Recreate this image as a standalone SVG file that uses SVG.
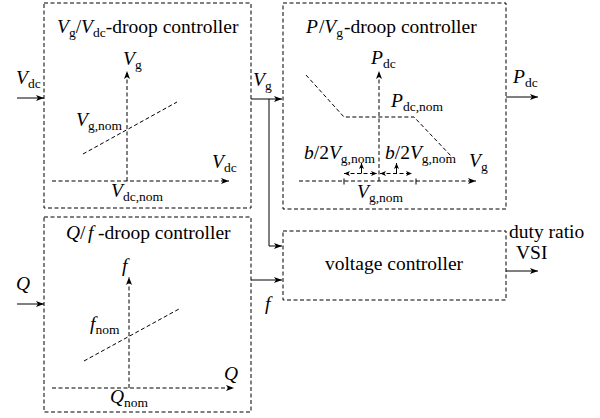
<svg xmlns="http://www.w3.org/2000/svg" width="600" height="418" viewBox="0 0 600 418" font-family="'Liberation Serif', 'DejaVu Serif', serif">
<defs>
<style>
.box{fill:none;stroke:#000;stroke-width:1;stroke-dasharray:4,2.5}
.dl{fill:none;stroke:#000;stroke-width:1;stroke-dasharray:4,2.5}
.ln{fill:none;stroke:#000;stroke-width:1}
text{font-family:'Liberation Serif','DejaVu Serif',serif;font-size:19.5px;fill:#000}
.i{font-style:italic}
.s{font-size:13.5px}
</style>
<marker id="ah" markerUnits="userSpaceOnUse" markerWidth="10" markerHeight="8" refX="8" refY="3" orient="auto-start-reverse" viewBox="0 0 10 8">
<path d="M0,0 L8,3 L0,6 L2,3 z" fill="#000" stroke="none"/>
</marker>
<marker id="sa" markerUnits="userSpaceOnUse" markerWidth="7" markerHeight="6" refX="6" refY="2.5" orient="auto-start-reverse" viewBox="0 0 7 6">
<path d="M0,0 L6,2.5 L0,5 L1.5,2.5 z" fill="#000" stroke="none"/>
</marker>
</defs>

<g id="vg-vdc-droop">
<rect class="box" x="44" y="3" width="207" height="205"/>
<text x="57" y="33"><tspan class="i">V</tspan><tspan class="s" dy="4">g</tspan><tspan dy="-4">/</tspan><tspan class="i">V</tspan><tspan class="s" dy="4">dc</tspan><tspan dy="-4">-droop controller</tspan></text>
<line class="dl" x1="127" y1="181" x2="127" y2="71" marker-end="url(#ah)"/>
<line class="dl" x1="52" y1="181" x2="229" y2="181" marker-end="url(#ah)"/>
<line class="dl" x1="83" y1="154" x2="177" y2="102"/>
<text x="123" y="65"><tspan class="i">V</tspan><tspan class="s" dy="4">g</tspan></text>
<text x="212" y="168"><tspan class="i">V</tspan><tspan class="s" dy="4">dc</tspan></text>
<text x="111" y="197"><tspan class="i">V</tspan><tspan class="s" dy="4">dc,nom</tspan></text>
<text x="76" y="126"><tspan class="i">V</tspan><tspan class="s" dy="4">g,nom</tspan></text>
</g>

<g id="p-vg-droop">
<rect class="box" x="283" y="3" width="223" height="206"/>
<text x="306" y="33"><tspan class="i">P</tspan><tspan dx="1">/</tspan><tspan class="i">V</tspan><tspan class="s" dy="4">g</tspan><tspan dy="-4" dx="1">-droop controller</tspan></text>
<line class="dl" x1="379" y1="181" x2="379" y2="71" marker-end="url(#ah)"/>
<line class="dl" x1="299" y1="181" x2="476" y2="181" marker-end="url(#ah)"/>
<polyline class="dl" points="306,75 344,117 414,117 452,157"/>
<line class="ln" x1="344" y1="178.5" x2="344" y2="184.5"/>
<line class="ln" x1="416" y1="178.5" x2="416" y2="184.5"/>
<line class="dl" x1="344" y1="173.5" x2="377" y2="173.5" marker-start="url(#sa)" marker-end="url(#sa)"/>
<line class="dl" x1="380" y1="173.5" x2="412" y2="173.5" marker-start="url(#sa)" marker-end="url(#sa)"/>
<line class="ln" x1="361.5" y1="173.5" x2="361.5" y2="163" marker-end="url(#sa)"/>
<line class="ln" x1="396.5" y1="173.5" x2="396.5" y2="163" marker-end="url(#sa)"/>
<text x="371" y="64"><tspan class="i">P</tspan><tspan class="s" dy="4">dc</tspan></text>
<text x="391" y="107"><tspan class="i">P</tspan><tspan class="s" dy="4">dc,nom</tspan></text>
<text x="469" y="167"><tspan class="i">V</tspan><tspan class="s" dy="4">g</tspan></text>
<text x="357" y="198"><tspan class="i">V</tspan><tspan class="s" dy="4">g,nom</tspan></text>
<text x="304" y="159"><tspan class="i">b</tspan><tspan>/2</tspan><tspan class="i">V</tspan><tspan class="s" dy="4">g,nom</tspan></text>
<text x="385" y="159"><tspan class="i">b</tspan><tspan>/2</tspan><tspan class="i">V</tspan><tspan class="s" dy="4">g,nom</tspan></text>
</g>

<g id="q-f-droop">
<rect class="box" x="44" y="217" width="207" height="195"/>
<text x="66" y="239"><tspan class="i">Q</tspan><tspan>/</tspan><tspan class="i" dx="2.5">f</tspan><tspan dx="4.5">-droop controller</tspan></text>
<line class="dl" x1="129" y1="388" x2="129" y2="277" marker-end="url(#ah)"/>
<line class="dl" x1="52" y1="388" x2="234" y2="388" marker-end="url(#ah)"/>
<line class="dl" x1="84" y1="361" x2="179" y2="309"/>
<text x="122" y="272" class="i">f</text>
<text x="224" y="380" class="i">Q</text>
<text x="110" y="403"><tspan class="i">Q</tspan><tspan class="s" dy="4">nom</tspan></text>
<text x="90" y="330"><tspan class="i">f</tspan><tspan class="s" dy="4">nom</tspan></text>
</g>

<g id="voltage-controller">
<rect class="box" x="283" y="231" width="223" height="69"/>
<text x="394" y="270" text-anchor="middle">voltage controller</text>
</g>

<g id="connectors">
<line class="ln" x1="17" y1="98" x2="44" y2="98" marker-end="url(#ah)"/>
<line class="ln" x1="251" y1="99" x2="282" y2="99" marker-end="url(#ah)"/>
<polyline class="ln" points="269,99 269,246 282,246" marker-end="url(#ah)"/>
<line class="ln" x1="251" y1="280" x2="282" y2="280" marker-end="url(#ah)"/>
<line class="ln" x1="17" y1="304" x2="44" y2="304" marker-end="url(#ah)"/>
<line class="ln" x1="506" y1="97" x2="538" y2="97" marker-end="url(#ah)"/>
<line class="ln" x1="506" y1="271" x2="538" y2="271" marker-end="url(#ah)"/>
<text x="16" y="84"><tspan class="i">V</tspan><tspan class="s" dy="4">dc</tspan></text>
<text x="253" y="86"><tspan class="i">V</tspan><tspan class="s" dy="4">g</tspan></text>
<text x="513" y="83"><tspan class="i">P</tspan><tspan class="s" dy="4">dc</tspan></text>
<text x="16" y="290" class="i">Q</text>
<text x="265" y="310" class="i">f</text>
<text x="509" y="238">duty ratio</text>
<text x="516" y="259">VSI</text>
</g>
</svg>
